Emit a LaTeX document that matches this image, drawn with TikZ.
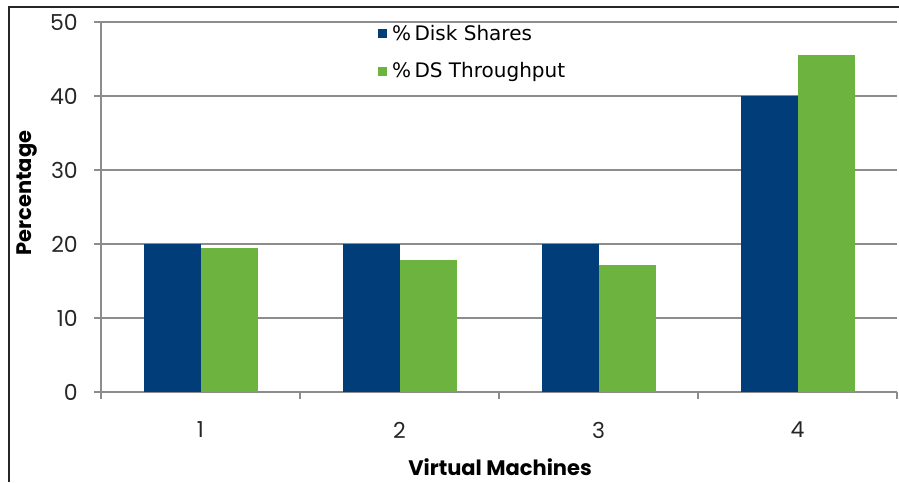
\documentclass[tikz,border=0pt]{standalone}
\usepackage{fontspec}
\setmainfont{Poppins}
\newfontfamily\legfont{DejaVu Sans}
\definecolor{vblue}{HTML}{003D79}
\definecolor{vgreen}{HTML}{6DB33F}
\definecolor{gridgray}{HTML}{8C8C8C}
\begin{document}
\begin{tikzpicture}[x=1pt,y=-1pt,
  gridline/.style={draw=gridgray,line width=1.2pt},
  ticklab/.style={font=\fontsize{22}{22}\selectfont,text=black!85,inner sep=0pt},
  bluebar/.style={fill=vblue,draw=none},
  greenbar/.style={fill=vgreen,draw=none},
  axtitle/.style={font=\fontsize{21}{21}\selectfont\bfseries,inner sep=0pt},
  legtext/.style={font=\legfont\fontsize{20}{20}\selectfont,inner sep=0pt,anchor=west}]
\useasboundingbox (0,0) rectangle (899,482);
% frame
\draw[line width=2pt,black!85] (9,482) -- (9,7) -- (899,7);
% gridlines and y ticks
\foreach \v in {10,20,30,40,50}{
  \draw[gridline] (94,{392-7.4*\v}) -- (897,{392-7.4*\v});
}
\draw[gridline] (101,22) -- (101,399);
\draw[gridline] (94,392) -- (897,392);
\foreach \i in {0,1,2,3,4}{
  \draw[gridline] ({101+199*\i},392) -- ({101+199*\i},399);
}
\draw[gridline] (897,392) -- (897,399);
% y tick labels
\foreach \v in {0,10,20,30,40,50}{
  \node[ticklab,anchor=east] (y\v) at (78,{392-7.4*\v}) {\v};
}
% x tick labels
\foreach \i in {1,2,3,4}{
  \node[ticklab] (x\i) at ({101+199*(\i-0.5)},430) {\i};
}
% bars
\foreach \i/\b/\g in {1/20/19.4,2/20/17.8,3/20/17.1,4/40/45.6}{
  \fill[bluebar] ({144+199*(\i-1)},392) rectangle ({200.5+199*(\i-1)},{392-7.4*\b});
  \fill[greenbar] ({200.5+199*(\i-1)},392) rectangle ({257.5+199*(\i-1)},{392-7.4*\g});
}
% legend
\fill[vblue] (378,29) rectangle (387,38);
\node[legtext] (l1) at (392,33.5) {\%\,Disk Shares};
\fill[vgreen] (378,67) rectangle (387,76);
\node[legtext] (l2) at (392,71.5) {\%\,DS Throughput};
% axis titles
\node[axtitle,rotate=90] (yt) at (27,193) {Percentage};
\node[axtitle] (xt) at (500,467) {Virtual Machines};
\end{tikzpicture}
\end{document}
